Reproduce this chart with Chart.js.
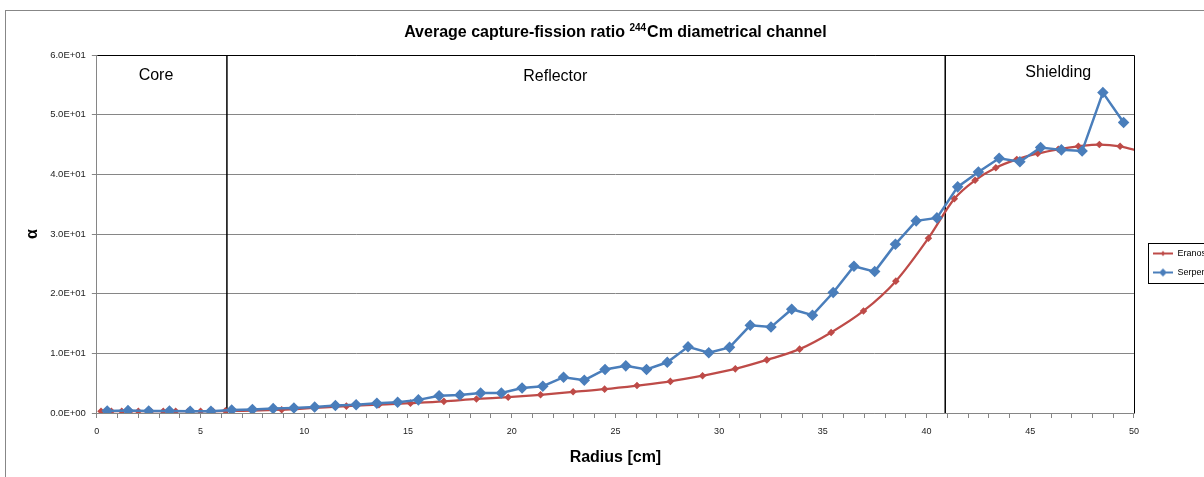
<!DOCTYPE html>
<html>
<head>
<meta charset="utf-8">
<script src="https://cdn.jsdelivr.net/npm/chart.js@4.4.0/dist/chart.umd.min.js"></script>
<style>
html, body { margin: 0; padding: 0; background: #fff; overflow: hidden; }
#wrap { position: relative; width: 1220px; height: 477px; }
</style>
</head>
<body>
<div id="wrap"><canvas id="myChart"></canvas></div>
<script>
// Eranos (red) - irregular mesh
const eranosX = [0.2, 0.7, 1.2, 1.6, 2.0, 2.6, 3.2, 3.8, 4.4, 5.0, 5.6, 6.2, 7.5, 8.91, 10.47, 12.03, 13.6, 15.12,
    16.73, 18.3, 19.83, 21.39, 22.96, 24.48, 26.04, 27.65, 29.2, 30.78, 32.3, 33.88, 35.4, 36.96, 38.52, 40.09,
    41.34, 42.34, 43.34, 44.35, 45.36, 46.35, 47.32, 48.33, 49.33, 50.33];
const eranosY = [0.3, 0.3, 0.3, 0.3, 0.3, 0.3, 0.3, 0.3, 0.3, 0.3, 0.3, 0.35, 0.4, 0.55, 0.85, 1.15, 1.4, 1.65,
    1.95, 2.35, 2.65, 3.05, 3.55, 4.0, 4.6, 5.3, 6.25, 7.4, 8.9, 10.7, 13.5, 17.1, 22.1, 29.3,
    35.9, 39.0, 41.1, 42.5, 43.5, 44.2, 44.7, 45.0, 44.7, 43.8];

// Serpent (blue) - 1 cm bins
const serpentX = [0.5, 1.5, 2.5, 3.5, 4.5, 5.5, 6.5, 7.5, 8.5, 9.5, 10.5, 11.5, 12.5, 13.5, 14.5, 15.5, 16.5,
    17.5, 18.5, 19.5, 20.5, 21.5, 22.5, 23.5, 24.5, 25.5, 26.5, 27.5, 28.5, 29.5, 30.5, 31.5, 32.5, 33.5,
    34.5, 35.5, 36.5, 37.5, 38.5, 39.5, 40.5, 41.5, 42.5, 43.5, 44.5, 45.5, 46.5, 47.5, 48.5, 49.5];
const serpentY = [0.35, 0.4, 0.35, 0.35, 0.3, 0.3, 0.5, 0.6, 0.75, 0.85, 1.0, 1.25, 1.4, 1.65, 1.8, 2.2, 2.9,
    3.0, 3.35, 3.35, 4.2, 4.5, 6.0, 5.5, 7.3, 7.9, 7.3, 8.5, 11.1, 10.1, 11.0, 14.7, 14.4, 17.4,
    16.4, 20.2, 24.6, 23.7, 28.3, 32.2, 32.7, 37.9, 40.4, 42.7, 42.1, 44.5, 44.1, 43.9, 53.7, 48.7];

// region boundaries [cm]
const boundaries = [6.27, 40.9];
const regionNames = ['Core', 'Reflector', 'Shielding'];

const yTickLabels = ['0.0E+00', '1.0E+01', '2.0E+01', '3.0E+01', '4.0E+01', '5.0E+01', '6.0E+01'];

// title pieces (the mass number is a superscript)
const titleParts = ['Average capture-fission ratio ', '244', 'Cm diametrical channel'];

const RED = '#BE4B48';
const BLUE = '#4A7EBB';
const GRID = '#868686';
const FONT = 'Liberation Sans';

function toPoints(xs, ys) {
    return xs.map((x, i) => ({x: x, y: ys[i]}));
}

// legend symbol: short line with a diamond in the middle
function legendSymbol(color, r, lw) {
    const c = document.createElement('canvas');
    c.width = 20;
    c.height = 10;
    const g = c.getContext('2d');
    g.strokeStyle = color;
    g.lineWidth = lw;
    g.beginPath();
    g.moveTo(0, 5);
    g.lineTo(20, 5);
    g.stroke();
    g.fillStyle = color;
    g.beginPath();
    g.moveTo(10, 5 - r);
    g.lineTo(10 + r, 5);
    g.lineTo(10, 5 + r);
    g.lineTo(10 - r, 5);
    g.closePath();
    g.fill();
    return c;
}
const redSymbol = legendSymbol(RED, 2.5, 2);
const blueSymbol = legendSymbol(BLUE, 4, 2);

const boundarySets = boundaries.map(b => ({
    label: '',
    data: [{x: b, y: 0}, {x: b, y: 60}],
    borderColor: '#000',
    borderWidth: 1.5,
    pointRadius: 0,
    order: 3
}));

const regionLabels = {
    id: 'regionLabels',
    afterDatasetsDraw(chart, args, opts) {
        const ctx = chart.ctx;
        const xs = chart.scales.x, ys = chart.scales.y;
        ctx.save();
        ctx.font = '16px "' + FONT + '"';
        ctx.fillStyle = '#000';
        ctx.textAlign = 'center';
        ctx.textBaseline = 'middle';
        regionNames.forEach((name, i) => {
            ctx.fillText(name, xs.getPixelForValue(opts.x[i]), ys.getPixelForValue(opts.y[i]));
        });
        ctx.restore();
    }
};

// chart title with a real superscript
const supTitle = {
    id: 'supTitle',
    afterDraw(chart, args, opts) {
        const ctx = chart.ctx;
        const a = chart.chartArea;
        const big = 'bold 16px "' + FONT + '"';
        const small = 'bold 10px "' + FONT + '"';
        ctx.save();
        ctx.fillStyle = '#000';
        ctx.textBaseline = 'alphabetic';
        ctx.textAlign = 'left';
        ctx.font = big;
        const w0 = ctx.measureText(titleParts[0]).width;
        const w2 = ctx.measureText(titleParts[2]).width;
        ctx.font = small;
        const w1 = ctx.measureText(titleParts[1]).width + 1;
        let x = (a.left + a.right) / 2 - (w0 + w1 + w2) / 2;
        const base = opts.y;
        ctx.font = big;
        ctx.fillText(titleParts[0], x, base);
        x += w0;
        ctx.font = small;
        ctx.fillText(titleParts[1], x, base - 6);
        x += w1;
        ctx.font = big;
        ctx.fillText(titleParts[2], x, base);
        ctx.restore();
    }
};

const frame = {
    id: 'frame',
    beforeDraw(chart) {
        const ctx = chart.ctx;
        ctx.save();
        ctx.fillStyle = '#fff';
        ctx.fillRect(0, 0, chart.width, chart.height);
        ctx.strokeStyle = '#878787';
        ctx.lineWidth = 1;
        ctx.strokeRect(5.5, 10.5, chart.width + 10, chart.height + 10);
        ctx.restore();
    },
    beforeDatasetsDraw(chart) {
        const a = chart.chartArea;
        const ctx = chart.ctx;
        ctx.save();
        ctx.strokeStyle = '#000';
        ctx.lineWidth = 1;
        ctx.beginPath();
        ctx.moveTo(Math.round(a.left) + 0.5, Math.round(a.top) + 0.5);
        ctx.lineTo(Math.round(a.right) + 0.5, Math.round(a.top) + 0.5);
        ctx.lineTo(Math.round(a.right) + 0.5, Math.round(a.bottom) + 0.5);
        ctx.stroke();
        ctx.restore();
    },
    afterLayout(chart) {
        // Excel puts the legend a bit further right
        const lg = chart.legend;
        lg.left += 9; lg.right += 9;
        lg.top -= 3; lg.bottom -= 3;
    },
    afterDraw(chart) {
        const boxes = chart.legend.legendHitBoxes;
        if (!boxes || !boxes.length) return;
        const ctx = chart.ctx;
        const top = Math.min(...boxes.map(b => b.top));
        const bottom = Math.max(...boxes.map(b => b.top + b.height));
        const left = Math.min(...boxes.map(b => b.left));
        ctx.save();
        ctx.strokeStyle = '#000';
        ctx.lineWidth = 1;
        ctx.strokeRect(Math.round(left - 5) + 0.5, Math.round(top - 6) + 0.5, 200, Math.round(bottom - top + 12));
        ctx.restore();
    }
};

let ctx1 = document.getElementById('myChart').getContext('2d');
let chart1 = new Chart(ctx1, {
    type: 'line',
    data: {
        datasets: [{
            label: 'Eranos',
            data: toPoints(eranosX, eranosY),
            borderColor: RED,
            backgroundColor: RED,
            borderWidth: 2.25,
            pointStyle: 'rectRot',
            pointRadius: 2.2,
            cubicInterpolationMode: 'monotone',
            order: 2
        }, {
            label: 'Serpent',
            data: toPoints(serpentX, serpentY),
            borderColor: BLUE,
            backgroundColor: BLUE,
            borderWidth: 2.5,
            pointStyle: 'rectRot',
            pointRadius: 4,
            tension: 0,
            order: 1
        }].concat(boundarySets)
    },
    options: {
        responsive: true,
        maintainAspectRatio: false,
        animation: false,
        layout: {
            padding: {left: 10, right: 10, top: 55, bottom: 0}
        },
        scales: {
            x: {
                type: 'linear',
                min: 0,
                max: 50,
                grid: {
                    drawOnChartArea: false,
                    color: GRID,
                    tickLength: 5
                },
                border: {color: GRID, width: 1},
                ticks: {
                    stepSize: 1,
                    autoSkip: false,
                    maxRotation: 0,
                    padding: 8,
                    color: '#222',
                    font: {family: FONT, size: 9},
                    callback: v => (v % 5 === 0 ? String(v) : '')
                },
                title: {
                    display: true,
                    text: 'Radius [cm]',
                    color: '#000',
                    font: {family: FONT, size: 16, weight: 'bold'},
                    padding: {top: 3, bottom: 10}
                }
            },
            y: {
                min: 0,
                max: 60,
                grid: {
                    color: GRID,
                    tickLength: 5
                },
                border: {color: GRID, width: 1},
                ticks: {
                    stepSize: 10,
                    padding: 6,
                    color: '#222',
                    font: {family: FONT, size: 9.5},
                    callback: (v) => yTickLabels[Math.round(v / 10)]
                },
                title: {
                    display: true,
                    text: 'α',
                    color: '#000',
                    font: {family: FONT, size: 16, weight: 'bold'},
                    padding: {top: 13, bottom: 2}
                }
            }
        },
        plugins: {
            title: {display: false},
            supTitle: {y: 37},
            legend: {
                position: 'right',
                labels: {
                    usePointStyle: true,
                    pointStyleWidth: 20,
                    padding: 10,
                    color: '#000',
                    font: {family: FONT, size: 9},
                    filter: item => item.text !== '',
                    sort: (a, b) => a.datasetIndex - b.datasetIndex,
                    generateLabels: (chart) => {
                        const items = Chart.defaults.plugins.legend.labels.generateLabels(chart);
                        items.forEach(it => {
                            if (it.text === 'Eranos') it.pointStyle = redSymbol;
                            if (it.text === 'Serpent') it.pointStyle = blueSymbol;
                        });
                        return items;
                    }
                }
            },
            tooltip: {enabled: false},
            regionLabels: {
                x: [2.85, 22.1, 46.35],
                y: [56.6, 56.3, 57.1]
            }
        }
    },
    plugins: [frame, regionLabels, supTitle]
});
</script>
</body>
</html>
